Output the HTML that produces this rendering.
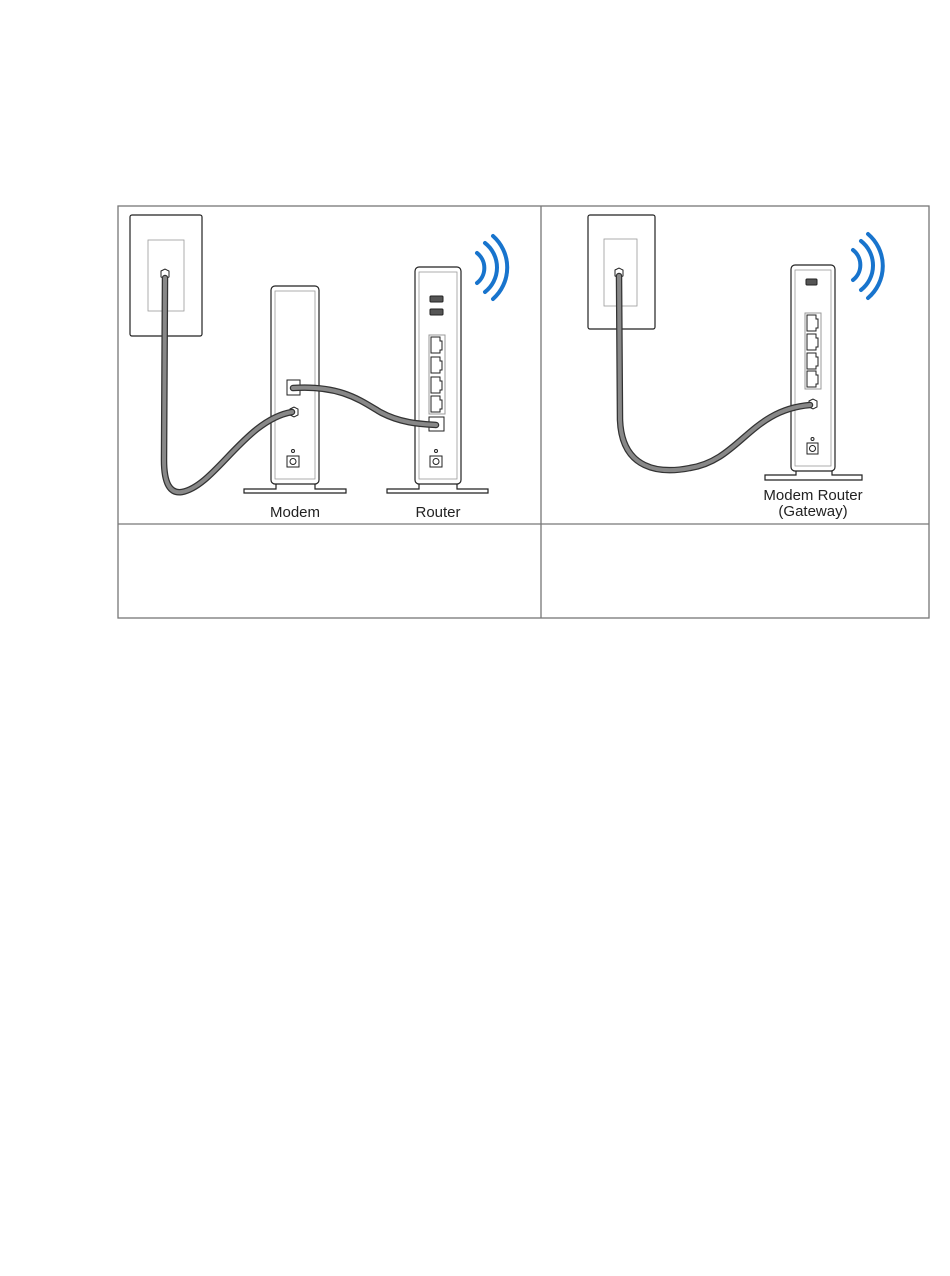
<!DOCTYPE html>
<html><head><meta charset="utf-8"><style>
html,body{margin:0;padding:0;background:#fff;}
svg{display:block;}
text{font-family:"Liberation Sans",sans-serif;font-size:15px;fill:#222;}
</style></head><body>
<svg width="950" height="1276" viewBox="0 0 950 1276" xmlns="http://www.w3.org/2000/svg">
<!-- table -->
<g fill="none" stroke="#777" stroke-width="1.3">
<rect x="118" y="206" width="811" height="412"/>
<line x1="541" y1="206" x2="541" y2="618"/>
<line x1="118" y1="524" x2="929" y2="524"/>
</g>
<!-- LEFT PANEL -->
<g fill="#fff" stroke="#222" stroke-width="1.2">
<rect x="130" y="215" width="72" height="121" rx="2"/>
<rect x="148" y="240" width="36" height="71" stroke="#999" stroke-width="0.8"/>
<!-- modem -->
<rect x="256" y="483" width="0" height="0"/>
<path d="M276 483 v6 h-32 v4 h102 v-4 h-31 v-6 z"/>
<rect x="271" y="286" width="48" height="198" rx="4"/>
<rect x="275" y="291" width="40" height="188" stroke="#999" stroke-width="0.8"/>
<!-- router -->
<path d="M419 483 v6 h-32 v4 h101 v-4 h-31 v-6 z"/>
<rect x="415" y="267" width="46" height="217" rx="4"/>
<rect x="419" y="272" width="38" height="207" stroke="#999" stroke-width="0.8"/>
</g>
<!-- router ports -->
<g fill="#555" stroke="#222" stroke-width="1">
<rect x="430" y="296" width="13" height="6" rx="1"/>
<rect x="430" y="309" width="13" height="6" rx="1"/>
</g>
<g fill="#fff" stroke="#222" stroke-width="1">
<rect x="429" y="335" width="16" height="79" stroke="#999"/>
<path d="M431 337 h9 v4 h2 v9 h-2 v3 h-9 z"/>
<path d="M431 357 h9 v4 h2 v9 h-2 v3 h-9 z"/>
<path d="M431 377 h9 v4 h2 v9 h-2 v3 h-9 z"/>
<path d="M431 396 h9 v4 h2 v9 h-2 v3 h-9 z"/>
<rect x="429" y="417" width="15" height="14"/>
<rect x="430" y="456" width="12" height="11"/><circle cx="436" cy="461.5" r="3"/><circle cx="436" cy="451" r="1.5"/>
<!-- modem ports -->
<rect x="287" y="380" width="13" height="15"/>
<path d="M290 384 l4 -2 l4 2 v6 l-4 2 l-4 -2 z" transform="translate(0,25)"/>
<rect x="287" y="456" width="12" height="11"/><circle cx="293" cy="461.5" r="3"/><circle cx="293" cy="451" r="1.5"/>
<!-- wall jack -->
<path d="M161 271 l4 -2 l4 2 v6 l-4 2 l-4 -2 z"/>
</g>
<!-- cables left -->
<g fill="none" stroke-linecap="round">
<path d="M165 278 L164 460 Q164 495 182 492 C215 486 245 420 292 412" stroke="#333" stroke-width="6.5"/>
<path d="M165 278 L164 460 Q164 495 182 492 C215 486 245 420 292 412" stroke="#888" stroke-width="4"/>
<path d="M293 388 C340 385 360 400 380 412 C400 423 420 424 436 425" stroke="#333" stroke-width="6.5"/>
<path d="M293 388 C340 385 360 400 380 412 C400 423 420 424 436 425" stroke="#888" stroke-width="4"/>
</g>
<!-- wifi left -->
<g fill="none" stroke="#1874cd" stroke-width="4" stroke-linecap="round">
<path d="M477 253 A19 19 0 0 1 477 283"/>
<path d="M485 243 A31 31 0 0 1 485 292"/>
<path d="M493 236 A42 42 0 0 1 493 299"/>
</g>
<text x="295" y="517" text-anchor="middle">Modem</text>
<text x="438" y="517" text-anchor="middle">Router</text>

<!-- RIGHT PANEL -->
<g fill="#fff" stroke="#222" stroke-width="1.2">
<rect x="588" y="215" width="67" height="114" rx="2"/>
<rect x="604" y="239" width="33" height="67" stroke="#999" stroke-width="0.8"/>
<path d="M796 469 v6 h-31 v5 h97 v-5 h-30 v-6 z"/>
<rect x="791" y="265" width="44" height="206" rx="4"/>
<rect x="795" y="270" width="36" height="196" stroke="#999" stroke-width="0.8"/>
</g>
<g fill="#555" stroke="#222" stroke-width="1"><rect x="806" y="279" width="11" height="6" rx="1"/></g>
<g fill="#fff" stroke="#222" stroke-width="1">
<rect x="805" y="313" width="16" height="76" stroke="#999"/>
<path d="M807 315 h9 v4 h2 v9 h-2 v3 h-9 z"/>
<path d="M807 334 h9 v4 h2 v9 h-2 v3 h-9 z"/>
<path d="M807 353 h9 v4 h2 v9 h-2 v3 h-9 z"/>
<path d="M807 371 h9 v4 h2 v9 h-2 v3 h-9 z"/>
<path d="M809 401 l4 -2 l4 2 v6 l-4 2 l-4 -2 z"/>
<rect x="807" y="443" width="11" height="11"/><circle cx="812.5" cy="448.5" r="3"/><circle cx="812.5" cy="439" r="1.5"/>
<path d="M615 270 l4 -2 l4 2 v6 l-4 2 l-4 -2 z"/>
</g>
<g fill="none" stroke-linecap="round">
<path d="M619 276 L620 420 C622 470 660 474 690 468 C740 460 750 410 810 405" stroke="#333" stroke-width="6.5"/>
<path d="M619 276 L620 420 C622 470 660 474 690 468 C740 460 750 410 810 405" stroke="#888" stroke-width="4"/>
</g>
<g fill="none" stroke="#1874cd" stroke-width="4" stroke-linecap="round">
<path d="M853 250 A19 19 0 0 1 853 280"/>
<path d="M861 241 A31 31 0 0 1 861 290"/>
<path d="M868 234 A42 42 0 0 1 868 298"/>
</g>
<text x="813" y="500" text-anchor="middle">Modem Router</text>
<text x="813" y="516" text-anchor="middle">(Gateway)</text>
</svg>
</body></html>
